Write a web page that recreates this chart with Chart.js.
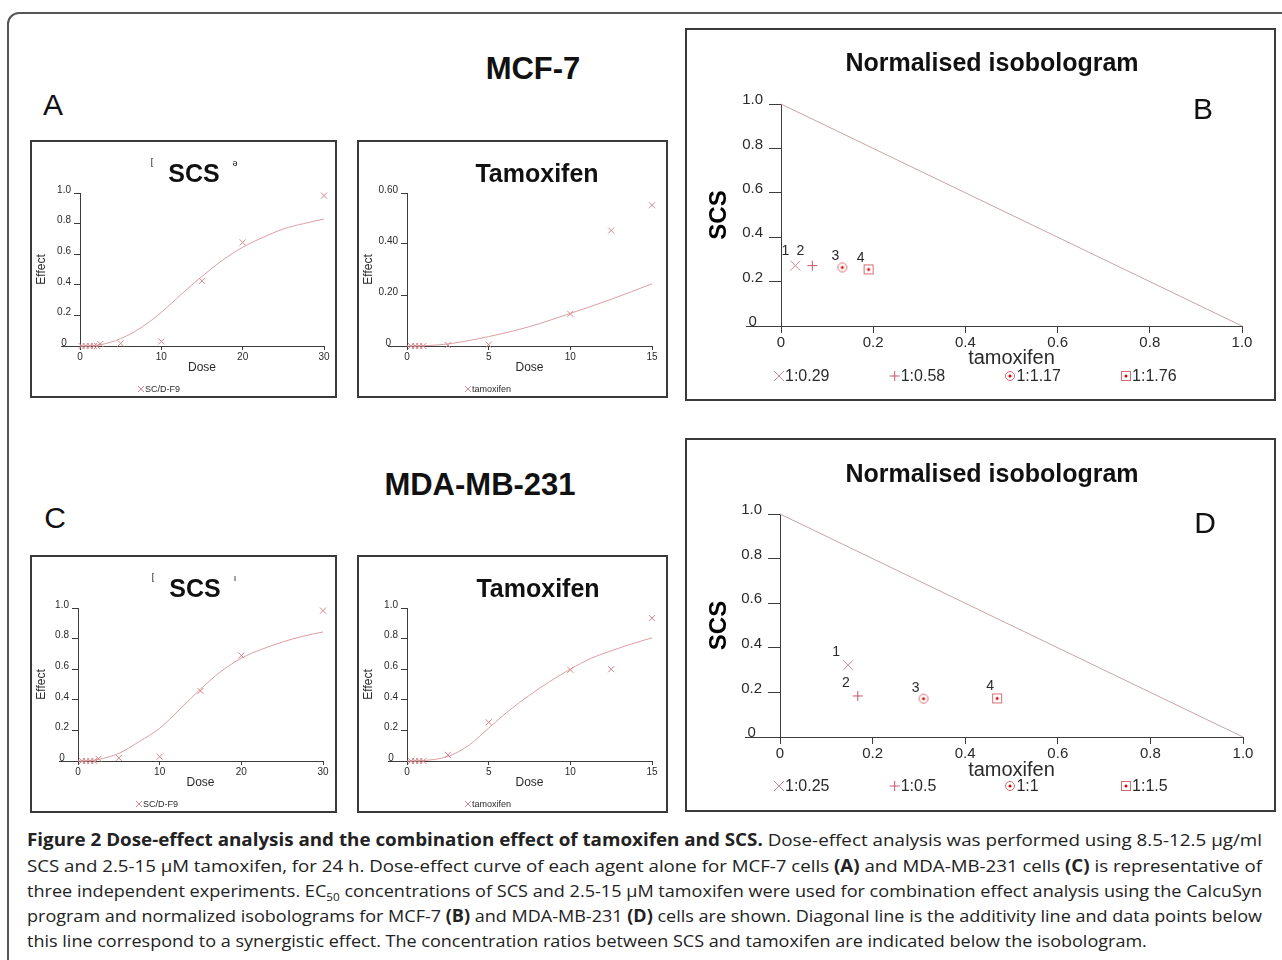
<!DOCTYPE html>
<html>
<head>
<meta charset="utf-8">
<title>Figure 2</title>
<script src="https://cdn.jsdelivr.net/npm/chart.js"></script>
<style>
  body { margin:0; width:1282px; height:960px; overflow:hidden; background:#fff; position:relative;
         font-family:"Liberation Sans", Arial, sans-serif; color:#111; }
  .frame { position:absolute; left:7px; top:12px; width:1320px; height:1000px; border:2px solid #555;
           border-top-left-radius:12px; box-sizing:border-box; }
  .box { position:absolute; border:2px solid #3a3a3a; box-sizing:border-box; }
  canvas { position:absolute; }
  .t { position:absolute; white-space:nowrap; line-height:1; transform:translate(-50%,-50%); }
  .big { font-size:30px; }
  .bold { font-weight:bold; }
  .cap { position:absolute; left:27px; white-space:nowrap; font-family:"Open Sans", sans-serif; font-size:17px;
         line-height:20px; transform-origin:0 50%; color:#222; }
  .cap sub { font-size:11px; vertical-align:-4px; line-height:0; }
</style>
</head>
<body>
<div class="frame"></div>

<!-- MCF-7 row -->
<div class="t bold" style="left:533px;top:68px;font-size:31px">MCF-7</div>
<div class="t big" style="left:53px;top:105px">A</div>
<div class="box" style="left:30px;top:140px;width:307px;height:258px"></div>
<canvas id="aScs" width="307" height="258" style="left:30px;top:140px"></canvas>
<div class="t" style="left:152px;top:162px;font-size:9px">[</div>
<div class="t" style="left:235px;top:163px;font-size:9px">ə</div>
<div class="t bold" style="left:194px;top:173px;font-size:25px">SCS</div>
<div class="box" style="left:357px;top:140px;width:311px;height:258px"></div>
<canvas id="aTam" width="311" height="258" style="left:357px;top:140px"></canvas>
<div class="t bold" style="left:537px;top:173px;font-size:25px">Tamoxifen</div>
<div class="box" style="left:685px;top:28px;width:591px;height:373px"></div>
<canvas id="bIso" width="591" height="373" style="left:685px;top:28px"></canvas>
<div class="t bold" style="left:992px;top:62px;font-size:25px">Normalised isobologram</div>
<div class="t big" style="left:1203px;top:109px">B</div>

<!-- MDA-MB-231 row -->
<div class="t bold" style="left:480px;top:484px;font-size:31px">MDA-MB-231</div>
<div class="t big" style="left:55px;top:518px">C</div>
<div class="box" style="left:30px;top:555px;width:307px;height:258px"></div>
<canvas id="cScs" width="307" height="258" style="left:30px;top:555px"></canvas>
<div class="t" style="left:153px;top:577px;font-size:9px">[</div>
<div class="t" style="left:235px;top:578px;font-size:9px">ı</div>
<div class="t bold" style="left:195px;top:588px;font-size:25px">SCS</div>
<div class="box" style="left:357px;top:555px;width:311px;height:258px"></div>
<canvas id="cTam" width="311" height="258" style="left:357px;top:555px"></canvas>
<div class="t bold" style="left:538px;top:588px;font-size:25px">Tamoxifen</div>
<div class="box" style="left:685px;top:438px;width:591px;height:374px"></div>
<canvas id="dIso" width="591" height="374" style="left:685px;top:438px"></canvas>
<div class="t bold" style="left:992px;top:473px;font-size:25px">Normalised isobologram</div>
<div class="t big" style="left:1205px;top:523px">D</div>

<!-- caption -->
<div class="cap" style="top:830px" data-w="1235"><b>Figure 2 Dose-effect analysis and the combination effect of tamoxifen and SCS.</b> Dose-effect analysis was performed using 8.5-12.5 μg/ml</div>
<div class="cap" style="top:856px" data-w="1235">SCS and 2.5-15 μM tamoxifen, for 24 h. Dose-effect curve of each agent alone for MCF-7 cells <b>(A)</b> and MDA-MB-231 cells <b>(C)</b> is representative of</div>
<div class="cap" style="top:881px" data-w="1235">three independent experiments. EC<sub>50</sub> concentrations of SCS and 2.5-15 μM tamoxifen were used for combination effect analysis using the CalcuSyn</div>
<div class="cap" style="top:906px" data-w="1235">program and normalized isobolograms for MCF-7 <b>(B)</b> and MDA-MB-231 <b>(D)</b> cells are shown. Diagonal line is the additivity line and data points below</div>
<div class="cap" style="top:931px">this line correspond to a synergistic effect. The concentration ratios between SCS and tamoxifen are indicated below the isobologram.</div>

<script>
// ---------- data ----------
// A: MCF-7, SCS alone
const mcfScsDose   = [0.2, 0.7, 1.2, 1.7, 2.1, 2.5, 5, 10, 15, 20, 30];
const mcfScsEffect = [0, 0, 0, 0, 0, 0.013, 0.017, 0.03, 0.426, 0.677, 0.983];
const mcfScsFitDose   = [0, 1, 2.5, 5, 7.5, 10, 12.5, 15, 17.5, 20, 22.5, 25, 27.5, 30];
const mcfScsFitEffect = [0, 0.001, 0.008, 0.048, 0.12, 0.22, 0.34, 0.455, 0.56, 0.645, 0.71, 0.765, 0.8, 0.83];

// A: MCF-7, tamoxifen alone
const mcfTamDose   = [0.25, 0.5, 0.75, 1, 2.5, 5, 10, 12.5, 15];
const mcfTamEffect = [0, 0, 0, 0, 0.004, 0.005, 0.126, 0.453, 0.552];
const mcfTamFitDose   = [0, 1, 2.5, 5, 7.5, 10, 12.5, 15];
const mcfTamFitEffect = [0, 0.001, 0.008, 0.037, 0.076, 0.128, 0.183, 0.244];

// C: MDA-MB-231, SCS alone
const mdaScsDose   = [0.5, 1, 1.5, 2, 2.5, 5, 10, 15, 20, 30];
const mdaScsEffect = [0, 0, 0, 0, 0.015, 0.02, 0.028, 0.458, 0.69, 0.983];
const mdaScsFitDose   = [0, 1, 2.5, 5, 7.5, 10, 12.5, 15, 17.5, 20, 22.5, 25, 27.5, 30];
const mdaScsFitEffect = [0, 0.001, 0.01, 0.05, 0.127, 0.214, 0.34, 0.47, 0.585, 0.672, 0.73, 0.777, 0.815, 0.843];

// C: MDA-MB-231, tamoxifen alone
const mdaTamDose   = [0.25, 0.5, 0.75, 1, 2.5, 5, 10, 12.5, 15];
const mdaTamEffect = [0, 0, 0, 0, 0.04, 0.253, 0.596, 0.6, 0.934];
const mdaTamFitDose   = [0, 1, 2.5, 3.75, 5, 6.25, 7.5, 8.75, 10, 11.25, 12.5, 13.75, 15];
const mdaTamFitEffect = [0, 0.003, 0.03, 0.1, 0.215, 0.33, 0.43, 0.52, 0.6, 0.67, 0.72, 0.765, 0.805];

// B / D: normalised isobolograms (tamoxifen, SCS)
const isoRatiosB = ['1:0.29', '1:0.58', '1:1.17', '1:1.76'];
const isoTamB    = [0.031, 0.068, 0.133, 0.19];
const isoScsB    = [0.272, 0.272, 0.264, 0.255];
const isoRatiosD = ['1:0.25', '1:0.5', '1:1', '1:1.5'];
const isoTamD    = [0.147, 0.168, 0.31, 0.469];
const isoScsD    = [0.322, 0.184, 0.172, 0.173];
const isoNumbers = ['1', '2', '3', '4'];
const additivityTam = [0, 1];
const additivityScs = [1, 0];

// ticks
const scsDoseTicks = [0, 10, 20, 30];
const tamDoseTicks = [0, 5, 10, 15];
const effectTicks  = [0, 0.2, 0.4, 0.6, 0.8, 1.0];
const effectTickLabels = ['0', '0.2', '0.4', '0.6', '0.8', '1.0'];
const lowEffectTicks  = [0, 0.2, 0.4, 0.6];
const lowEffectTickLabels = ['0', '0.20', '0.40', '0.60'];
const isoTicks  = [0, 0.2, 0.4, 0.6, 0.8, 1.0];
const isoTickLabels = ['0', '0.2', '0.4', '0.6', '0.8', '1.0'];

// ---------- styling ----------
const axisColor = '#3c3c3c';
const textColor = '#2a2a2a';
const dosePink  = '#d6868c';
const fitPink   = '#dc9ea2';
Chart.defaults.font.family = '"Liberation Sans", Arial, sans-serif';
Chart.defaults.color = textColor;

function pts(xs, ys) { return xs.map((x, i) => ({ x: x, y: ys[i] })); }

// CalcuSyn style markers: circle / square with a red dot
function dotMarker(kind) {
  const c = document.createElement('canvas');
  c.width = 12; c.height = 12;
  const g = c.getContext('2d');
  g.strokeStyle = '#d46d72'; g.lineWidth = 1;
  if (kind === 'circle') { g.beginPath(); g.arc(6, 6, 4.5, 0, Math.PI * 2); g.stroke(); }
  else g.strokeRect(1.5, 1.5, 9, 9);
  g.fillStyle = '#e00000';
  g.beginPath(); g.arc(6, 6, 1.5, 0, Math.PI * 2); g.fill();
  return c;
}

function drawMarker(ctx, ds, x, y) {
  const st = ds.pointStyle, r = ds.pointRadius;
  ctx.strokeStyle = ds.pointBorderColor; ctx.lineWidth = 1;
  if (st === 'crossRot' || st === 'cross') {
    const h = st === 'crossRot' ? r * Math.SQRT1_2 : r;
    ctx.beginPath();
    if (st === 'crossRot') {
      ctx.moveTo(x - h, y - h); ctx.lineTo(x + h, y + h);
      ctx.moveTo(x - h, y + h); ctx.lineTo(x + h, y - h);
    } else {
      ctx.moveTo(x - h, y); ctx.lineTo(x + h, y);
      ctx.moveTo(x, y - h); ctx.lineTo(x, y + h);
    }
    ctx.stroke();
  } else {
    ctx.drawImage(st, Math.round(x - st.width / 2), Math.round(y - st.height / 2));
  }
}

// axis extension, point numbers and the fixed-column legend row
const calcuSyn = {
  id: 'calcuSyn',
  afterDraw(chart, args, o) {
    const ctx = chart.ctx, a = chart.chartArea;
    ctx.save();
    const yb = Math.round(a.bottom) + 0.5;
    ctx.strokeStyle = axisColor; ctx.lineWidth = 1;
    ctx.beginPath(); ctx.moveTo(a.left - o.extend, yb); ctx.lineTo(a.left, yb); ctx.stroke();

    ctx.textBaseline = 'middle';
    if (o.numbers) {
      ctx.font = o.numFont; ctx.fillStyle = textColor; ctx.textAlign = 'center';
      o.numbers.forEach((n, i) => {
        const p = chart.getDatasetMeta(o.firstPoint + i).data[0];
        ctx.fillText(n, p.x + o.numShift[i][0], p.y + o.numShift[i][1]);
      });
    }
    ctx.font = o.legendFont; ctx.textAlign = 'left';
    chart.data.datasets.forEach(ds => {
      if (ds.slot === undefined) return;
      const x = o.legendX + ds.slot * o.legendStep;
      drawMarker(ctx, ds, x, o.legendY);
      ctx.fillStyle = textColor;
      ctx.fillText(ds.label, x + o.gap, o.legendY + 1);
    });
    ctx.restore();
  }
};

// g: chart area inside the canvas; s: series and axis setup
function doseChart(id, g, s) {
  return new Chart(document.getElementById(id), {
    type: 'scatter',
    data: {
      datasets: [
        { label: s.legend, slot: 0, data: pts(s.dose, s.effect), pointStyle: 'crossRot', pointRadius: 4.3,
          pointBorderColor: dosePink, pointBorderWidth: 1, showLine: false, clip: false },
        { label: 'fit', data: pts(s.fitDose, s.fitEffect), showLine: true, pointRadius: 0, clip: false,
          borderColor: fitPink, borderWidth: 1, cubicInterpolationMode: 'monotone' }
      ]
    },
    options: {
      responsive: false, animation: false, events: [],
      layout: { padding: { left: 0, right: g.w - g.right, top: g.top, bottom: g.h - g.xBottom } },
      plugins: {
        legend: { display: false }, tooltip: { enabled: false },
        calcuSyn: { extend: 19, legendX: g.legendX, legendY: g.legendY, legendStep: 0, gap: 4,
                    legendFont: '9px "Liberation Sans", Arial, sans-serif' }
      },
      scales: {
        x: {
          type: 'linear', min: 0, max: s.xTicks[s.xTicks.length - 1],
          afterBuildTicks: sc => { sc.ticks = s.xTicks.map(v => ({ value: v })); },
          ticks: { font: { size: 10 }, padding: 1, maxRotation: 0, callback: v => String(v) },
          grid: { drawOnChartArea: false, tickLength: 4, color: axisColor },
          border: { color: axisColor },
          title: { display: true, text: 'Dose', font: { size: 12 }, padding: { top: 0, bottom: 2 } },
          afterFit: sc => { sc.height = g.xBottom - g.bottom; }
        },
        y: {
          type: 'linear', min: 0, max: s.yTicks[s.yTicks.length - 1],
          afterBuildTicks: sc => { sc.ticks = s.yTicks.map(v => ({ value: v })); },
          ticks: { font: { size: 10 }, padding: 3, labelOffset: -3, crossAlign: 'center',
                   callback: (v, i) => s.yLabels[i] },
          grid: { drawOnChartArea: false, tickLength: 6, color: axisColor },
          border: { color: axisColor },
          title: { display: true, text: 'Effect', font: { size: 12 }, padding: { top: 4, bottom: 0 } },
          afterFit: sc => { sc.width = g.left; }
        }
      }
    },
    plugins: [calcuSyn]
  });
}

const circleDot = dotMarker('circle');
const squareDot = dotMarker('square');

function isoChart(id, g, tam, scs, ratios, shifts) {
  const styles = [
    { pointStyle: 'crossRot', pointRadius: 7, pointBorderColor: '#c98896' },
    { pointStyle: 'cross', pointRadius: 5, pointBorderColor: '#c4566a' },
    { pointStyle: circleDot, pointRadius: 5, pointBorderColor: '#d46d72' },
    { pointStyle: squareDot, pointRadius: 5, pointBorderColor: '#d46d72' }
  ];
  const sets = [{ label: 'additivity', data: pts(additivityTam, additivityScs), showLine: true, pointRadius: 0,
                  borderColor: '#c9a3a6', borderWidth: 1, clip: false }];
  ratios.forEach((r, i) => {
    sets.push(Object.assign({ label: r, slot: i, data: [{ x: tam[i], y: scs[i] }], showLine: false,
                              pointBorderWidth: 1, clip: false }, styles[i]));
  });
  return new Chart(document.getElementById(id), {
    type: 'scatter',
    data: { datasets: sets },
    options: {
      responsive: false, animation: false, events: [],
      layout: { padding: { left: 0, right: g.w - g.right, top: g.top, bottom: g.h - g.xBottom } },
      plugins: {
        legend: { display: false }, tooltip: { enabled: false },
        calcuSyn: { extend: 35, legendX: g.legendX, legendY: g.legendY, legendStep: 115.7, gap: 6,
                    legendFont: '16px "Liberation Sans", Arial, sans-serif',
                    numbers: isoNumbers, firstPoint: 1, numShift: shifts,
                    numFont: '14px "Liberation Sans", Arial, sans-serif' }
      },
      scales: {
        x: {
          type: 'linear', min: 0, max: 1,
          afterBuildTicks: sc => { sc.ticks = isoTicks.map(v => ({ value: v })); },
          ticks: { font: { size: 15 }, padding: 1, maxRotation: 0, callback: (v, i) => isoTickLabels[i] },
          grid: { drawOnChartArea: false, tickLength: 7, color: axisColor },
          border: { color: axisColor },
          title: { display: true, text: 'tamoxifen', font: { size: 20 }, padding: { top: 0, bottom: 1 } },
          afterFit: sc => { sc.height = g.xBottom - g.bottom; }
        },
        y: {
          type: 'linear', min: 0, max: 1,
          afterBuildTicks: sc => { sc.ticks = isoTicks.map(v => ({ value: v })); },
          ticks: { font: { size: 15 }, padding: 6, labelOffset: -4, crossAlign: 'center',
                   callback: (v, i) => isoTickLabels[i] },
          grid: { drawOnChartArea: false, tickLength: 12, color: axisColor },
          border: { color: axisColor },
          title: { display: true, text: 'SCS', font: { size: 24, weight: 'bold' }, color: '#000',
                   padding: { top: 20, bottom: 0 } },
          afterFit: sc => { sc.width = g.left; }
        }
      }
    },
    plugins: [calcuSyn]
  });
}

doseChart('aScs', { w: 307, h: 258, left: 50, right: 294, top: 53, bottom: 206, xBottom: 237, legendX: 111, legendY: 249 },
  { legend: 'SC/D-F9', dose: mcfScsDose, effect: mcfScsEffect, fitDose: mcfScsFitDose, fitEffect: mcfScsFitEffect,
    xTicks: scsDoseTicks, yTicks: effectTicks, yLabels: effectTickLabels });
doseChart('aTam', { w: 311, h: 258, left: 50, right: 295, top: 53, bottom: 206, xBottom: 237, legendX: 111, legendY: 249 },
  { legend: 'tamoxifen', dose: mcfTamDose, effect: mcfTamEffect, fitDose: mcfTamFitDose, fitEffect: mcfTamFitEffect,
    xTicks: tamDoseTicks, yTicks: lowEffectTicks, yLabels: lowEffectTickLabels });
doseChart('cScs', { w: 307, h: 258, left: 48, right: 293, top: 53, bottom: 206, xBottom: 237, legendX: 109, legendY: 249 },
  { legend: 'SC/D-F9', dose: mdaScsDose, effect: mdaScsEffect, fitDose: mdaScsFitDose, fitEffect: mdaScsFitEffect,
    xTicks: scsDoseTicks, yTicks: effectTicks, yLabels: effectTickLabels });
doseChart('cTam', { w: 311, h: 258, left: 50, right: 295, top: 53, bottom: 206, xBottom: 237, legendX: 111, legendY: 249 },
  { legend: 'tamoxifen', dose: mdaTamDose, effect: mdaTamEffect, fitDose: mdaTamFitDose, fitEffect: mdaTamFitEffect,
    xTicks: tamDoseTicks, yTicks: effectTicks, yLabels: effectTickLabels });

isoChart('bIso', { w: 591, h: 373, left: 96, right: 557, top: 76, bottom: 298, xBottom: 343, legendX: 94, legendY: 348 },
  isoTamB, isoScsB, isoRatiosB, [[-10, -14], [-12, -14], [-7, -11], [-8, -11]]);
isoChart('dIso', { w: 591, h: 374, left: 95, right: 558, top: 76, bottom: 299, xBottom: 345, legendX: 94, legendY: 348 },
  isoTamD, isoScsD, isoRatiosD, [[-12, -13], [-12, -13], [-8, -11], [-7, -12]]);

// caption lines run the full width of the figure
function fitCaption() {
  let last = 1;
  document.querySelectorAll('.cap').forEach(el => {
    el.style.transform = 'none';
    const w = el.getBoundingClientRect().width;
    const k = el.dataset.w ? Number(el.dataset.w) / w : last;
    last = k;
    el.style.transform = 'scaleX(' + k + ')';
  });
}
fitCaption();
document.fonts.ready.then(fitCaption);
</script>
</body>
</html>
